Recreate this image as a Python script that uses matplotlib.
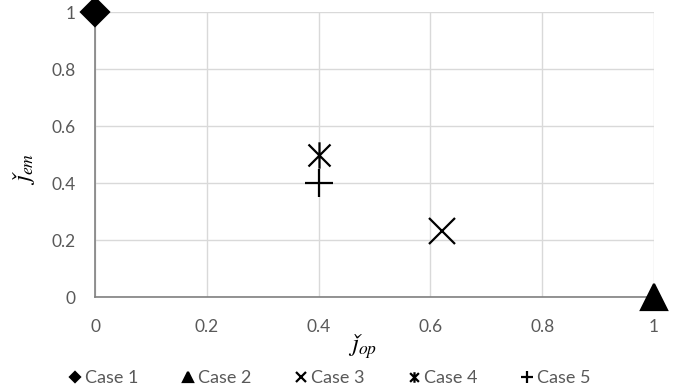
import numpy as np
import matplotlib.pyplot as plt
from matplotlib.path import Path

plt.rcParams['font.family'] = ['Lato', 'DejaVu Sans']
plt.rcParams['mathtext.fontset'] = 'stix'

# scatter data for each case
cases = ['Case 1', 'Case 2', 'Case 3', 'Case 4', 'Case 5']
j_op = [0.0, 1.0, 0.62, 0.40, 0.40]
j_em = [1.0, 0.0, 0.23, 0.50, 0.40]
ticks = [0, 0.2, 0.4, 0.6, 0.8, 1]
tick_labels = ['0', '0.2', '0.4', '0.6', '0.8', '1']

# X with a vertical bar through it
star = Path([(-1, -1), (1, 1), (-1, 1), (1, -1), (0, -1.2), (0, 1.2)],
            [Path.MOVETO, Path.LINETO, Path.MOVETO, Path.LINETO, Path.MOVETO, Path.LINETO])

markers = ['D', '^', 'x', star, '+']
sizes = [14, 19, 19, 19, 20]

fig = plt.figure(figsize=(6.9, 3.91), dpi=100)
ax = fig.add_axes([0.1377, 0.2404, 0.8103, 0.7289])

for name, x, y, m, s in zip(cases, j_op, j_em, markers, sizes):
    ax.plot([x], [y], linestyle='none', marker=m, markersize=s, color='black',
            markeredgewidth=1.6, clip_on=False, zorder=5, label=name)

ax.set_xlim(0, 1)
ax.set_ylim(0, 1)
ax.set_xticks(ticks)
ax.set_yticks(ticks)
ax.set_xticklabels(tick_labels)
ax.set_yticklabels(tick_labels)
ax.tick_params(length=0, labelsize=12.5, labelcolor='#595959')
ax.tick_params(axis='y', pad=14)
ax.tick_params(axis='x', pad=16)
ax.grid(True, color='#d9d9d9', linewidth=1)
ax.set_axisbelow(True)
for side in ['top', 'right']:
    ax.spines[side].set_visible(False)
for side in ['left', 'bottom']:
    ax.spines[side].set_color('#808080')
    ax.spines[side].set_linewidth(1.2)

ax.set_xlabel(r'$\mathit{ǰ}_{op}$', fontsize=18)
ax.set_ylabel(r'$\mathit{ǰ}_{em}$', fontsize=18)
ax.xaxis.set_label_coords(0.478, -0.122)
ax.yaxis.set_label_coords(-0.104, 0.45)

fig.legend(loc='center', bbox_to_anchor=(0.477, 0.033), ncol=5, frameon=False,
           fontsize=13, markerscale=0.4, handlelength=0.8, handletextpad=0.15,
           columnspacing=2.35, labelcolor='#595959')

fig.savefig('out.png', dpi=100)
